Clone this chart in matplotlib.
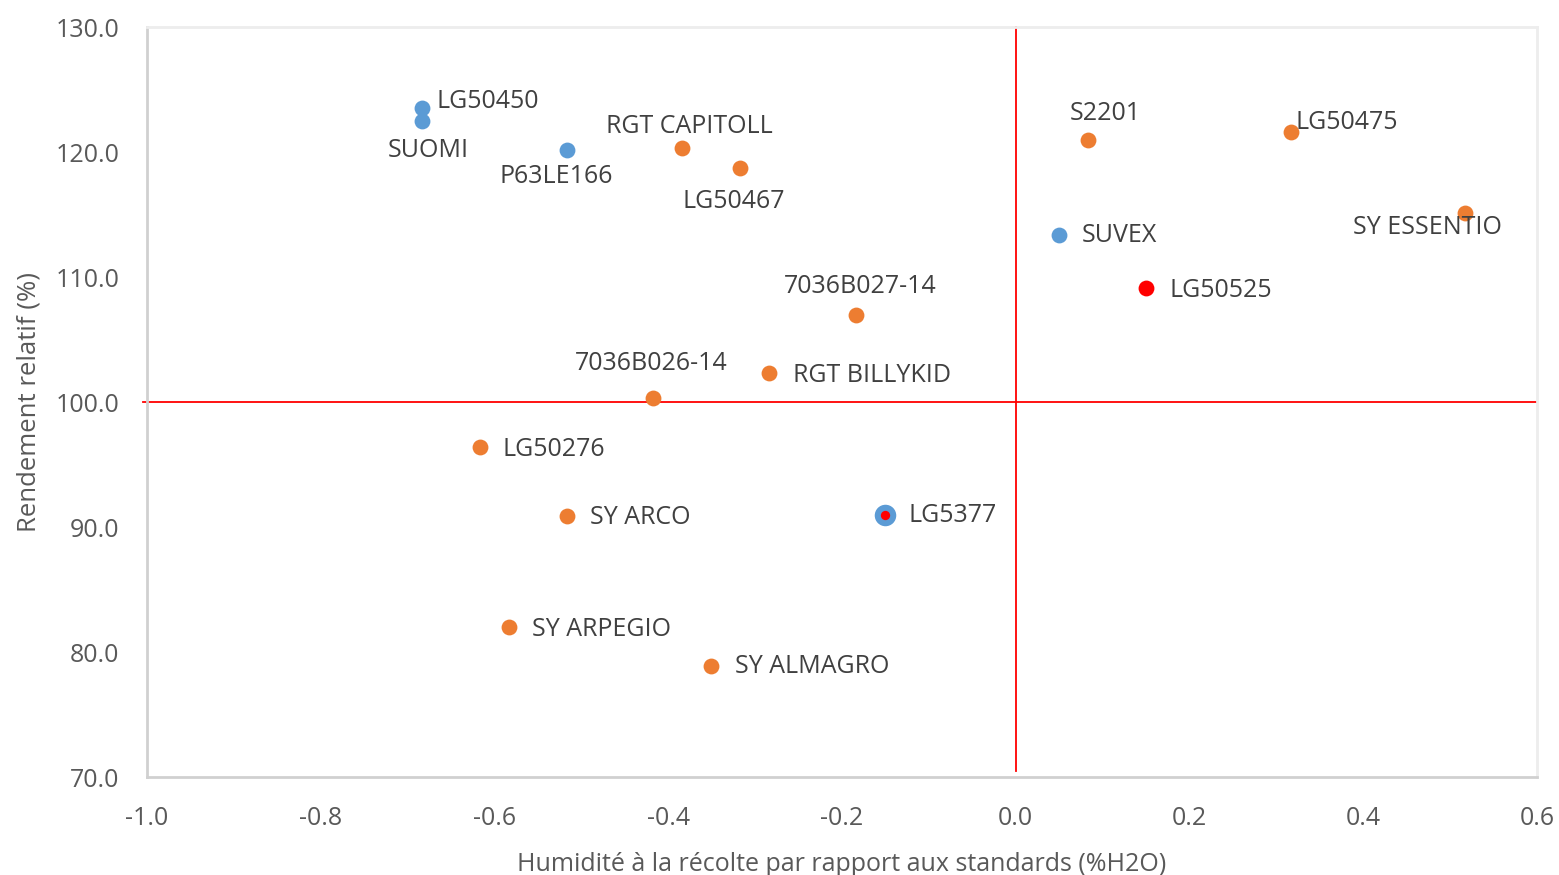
import matplotlib
matplotlib.use("Agg")
import matplotlib.pyplot as plt

plt.rcParams['font.family'] = ['Open Sans', 'DejaVu Sans']

# varieties: name, humidity vs standards (%H2O), relative yield (%), group
names = ["LG50450", "SUOMI", "P63LE166", "RGT CAPITOLL", "LG50467",
         "7036B027-14", "RGT BILLYKID", "7036B026-14", "LG50276", "SY ARCO",
         "LG5377", "SY ARPEGIO", "SY ALMAGRO", "S2201", "LG50475",
         "SY ESSENTIO", "SUVEX", "LG50525"]
humidite = [-0.683, -0.683, -0.517, -0.384, -0.317,
            -0.184, -0.284, -0.418, -0.617, -0.517,
            -0.150, -0.583, -0.351, 0.083, 0.317,
            0.517, 0.050, 0.150]
rendement = [123.5, 122.5, 120.2, 120.3, 118.7,
             107.0, 102.3, 100.3, 96.4, 90.9,
             91.0, 82.0, 78.9, 121.0, 121.6,
             115.1, 113.4, 109.1]
groupe = ["bleu", "bleu", "bleu", "orange", "orange",
          "orange", "orange", "orange", "orange", "orange",
          "bleu_rouge", "orange", "orange", "orange", "orange",
          "orange", "bleu", "rouge"]

# label offsets in pixels (dx, dy) and horizontal alignment
label_pos = {
    "LG50450": (14, 7, "left"), "SUOMI": (6, -30, "center"),
    "P63LE166": (-10, -27, "center"), "RGT CAPITOLL": (7, 22, "center"),
    "LG50467": (-7, -33, "center"), "7036B027-14": (4, 28, "center"),
    "RGT BILLYKID": (24, -2, "left"), "7036B026-14": (-1, 35, "center"),
    "LG50276": (23, -2, "left"), "SY ARCO": (23, -2, "left"),
    "LG5377": (23, -1, "left"), "SY ARPEGIO": (23, -2, "left"),
    "SY ALMAGRO": (24, -1, "left"), "S2201": (17, 26, "center"),
    "LG50475": (4, 10, "left"), "SY ESSENTIO": (-37, -14, "center"),
    "SUVEX": (23, -1, "left"), "LG50525": (23, -2, "left"),
}

BLUE = "#5B9BD5"
ORANGE = "#ED7D31"
RED = "#FF0000"
TXT = "#404040"
GRAY = "#595959"

fig = plt.figure(figsize=(15.59, 8.75), dpi=100)
ax = fig.add_axes([0.0943, 0.112, 0.8916, 0.857])

# reference lines at 0 humidity / 100 % yield
ax.plot([-1.005, 0.6], [100, 100], color=RED, lw=1.3, clip_on=False, zorder=1)
ax.plot([0, 0], [130, 70.5], color=RED, lw=1.3, clip_on=False, zorder=1)

for n, x, y, g in zip(names, humidite, rendement, groupe):
    if g == "bleu":
        ax.scatter(x, y, s=130, color=BLUE, zorder=3, lw=0)
    elif g == "orange":
        ax.scatter(x, y, s=130, color=ORANGE, zorder=3, lw=0)
    elif g == "rouge":
        ax.scatter(x, y, s=130, color=RED, zorder=3, lw=0)
    else:
        ax.scatter(x, y, s=240, color=BLUE, zorder=3, lw=0)
        ax.scatter(x, y, s=45, color=RED, zorder=4, lw=0)
    dx, dy, ha = label_pos[n]
    ax.annotate(n, (x, y), xytext=(dx, dy), textcoords="offset pixels",
                ha=ha, va="center", fontsize=18, color=TXT, zorder=5)

ax.set_xlim(-1.0, 0.6)
ax.set_ylim(70, 130)
ax.set_xticks([-1.0, -0.8, -0.6, -0.4, -0.2, 0.0, 0.2, 0.4, 0.6])
ax.set_yticks([70, 80, 90, 100, 110, 120, 130])
ax.set_xticklabels([f"{v:.1f}" for v in ax.get_xticks()])
ax.set_yticklabels([f"{v:.1f}" for v in ax.get_yticks()])
ax.tick_params(length=0, labelsize=18, labelcolor=GRAY, pad=20)
ax.tick_params(axis="x", pad=21)

for side in ["top", "right"]:
    ax.spines[side].set_color("#EDEDED")
    ax.spines[side].set_linewidth(2)
for side in ["left", "bottom"]:
    ax.spines[side].set_color("#D0D0D0")
    ax.spines[side].set_linewidth(2)

ax.set_xlabel("Humidité à la récolte par rapport aux standards (%H2O)",
              fontsize=18, color=GRAY, labelpad=15)
ax.set_ylabel("Rendement relatif (%)", fontsize=18.5, color=GRAY, labelpad=10)

fig.savefig("out.png", dpi=100)
